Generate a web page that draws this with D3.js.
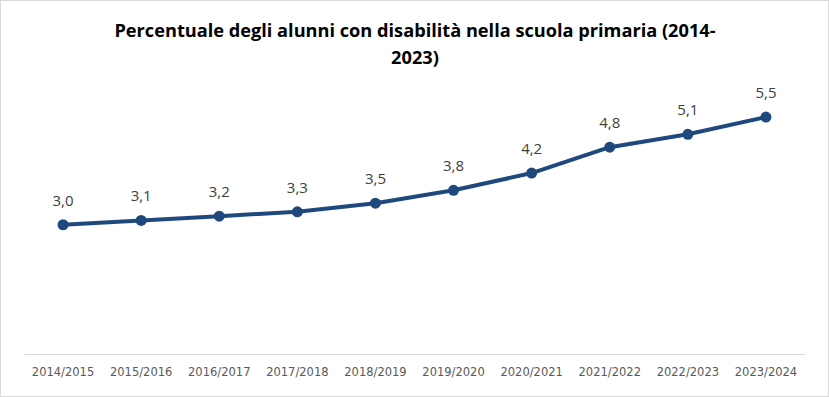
<!DOCTYPE html>
<html><head><meta charset="utf-8">
<script src="https://cdn.jsdelivr.net/npm/d3@7"></script>
<style>html,body{margin:0;padding:0;background:#fff;}svg{display:block;}</style>
</head><body>
<script>
const categories = ["2014/2015","2015/2016","2016/2017","2017/2018","2018/2019","2019/2020","2020/2021","2021/2022","2022/2023","2023/2024"];
const values = [3.0,3.1,3.2,3.3,3.5,3.8,4.2,4.8,5.1,5.5];
const titleLines = ["Percentuale degli alunni con disabilità nella scuola primaria (2014-","2023)"];

const W = 829, H = 397;
const svg = d3.select("body").append("svg").attr("width", W).attr("height", H);
svg.append("rect").attr("x",0.5).attr("y",0.5).attr("width",W-1).attr("height",H-1)
  .attr("fill","#fff").attr("stroke","#d9d9d9");

const x = d3.scaleBand().domain(categories).range([24, 805]);
const y = d3.scaleLinear().domain([0, 6]).range([354, 95.5]);

svg.append("g").selectAll("text").data(titleLines).join("text")
  .attr("x", 415).attr("y", (d,i) => 37 + i*27)
  .attr("text-anchor","middle")
  .attr("font-family","'Open Sans', sans-serif")
  .attr("font-weight","bold").attr("font-size", 18.2).attr("fill","#000")
  .text(d => d);

const xAxis = svg.append("g").attr("transform","translate(0,354)")
  .call(d3.axisBottom(x).tickSize(0).tickPadding(14));
xAxis.select(".domain").attr("stroke","#d9d9d9").attr("stroke-width",1);
xAxis.selectAll("text").attr("font-family","'DejaVu Sans', Verdana, sans-serif")
  .attr("font-size", 11.5).attr("fill","#595959");

const data = categories.map((c,i) => ({c, v: values[i]}));
const line = d3.line().x(d => x(d.c) + x.bandwidth()/2).y(d => y(d.v));
svg.append("path").datum(data).attr("d", line)
  .attr("fill","none").attr("stroke","#1f497d").attr("stroke-width",4)
  .attr("stroke-linejoin","round").attr("stroke-linecap","round");
svg.append("g").selectAll("circle").data(data).join("circle")
  .attr("cx", d => x(d.c) + x.bandwidth()/2).attr("cy", d => y(d.v))
  .attr("r", 5.5).attr("fill","#1f497d");
svg.append("g").selectAll("text").data(data).join("text")
  .attr("x", d => x(d.c) + x.bandwidth()/2).attr("y", d => y(d.v) - 19)
  .attr("text-anchor","middle")
  .attr("font-family","'Open Sans', sans-serif")
  .attr("font-size", 15).attr("fill","#404040")
  .text(d => d3.format(".1f")(d.v).replace(".", ","));
</script>
</body></html>
